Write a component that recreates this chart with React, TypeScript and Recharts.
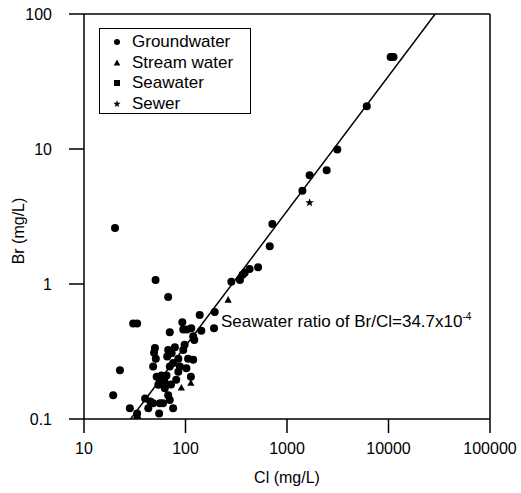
import { ReferenceLine, Scatter, ScatterChart, XAxis, YAxis } from "recharts";

const FONT = '"Liberation Sans", Arial, Helvetica, sans-serif';

// Cl (mg/L) and Br (mg/L)
const groundCl = [
  20.2, 50.7, 67.5, 30.5, 33.4, 22.6, 19.4, 28.3, 33.4, 33.4,
  138, 194, 191, 143, 93, 70, 95, 103, 114, 119, 122, 98, 95, 119,
  50, 49, 51, 48, 67.5, 66, 73, 78.6, 85, 70, 75.5, 65, 88, 85, 102, 106, 81, 113,
  52, 56, 54, 62.5, 67.5, 70, 40, 43, 48, 56, 60, 55, 75.5, 62, 45, 72, 58,
  283, 344, 365, 383, 428, 519, 676, 718, 1418, 1670, 2459, 3130, 6110, 10500, 11200,
];
const groundBr = [
  2.6, 1.07, 0.8, 0.51, 0.51, 0.23, 0.15, 0.12, 0.11, 0.1,
  0.59, 0.62, 0.47, 0.45, 0.52, 0.44, 0.46, 0.46, 0.47, 0.41, 0.385, 0.355, 0.325, 0.275,
  0.336, 0.31, 0.28, 0.245, 0.325, 0.29, 0.307, 0.34, 0.28, 0.245, 0.26, 0.21, 0.245, 0.224, 0.238, 0.28, 0.195, 0.206,
  0.206, 0.195, 0.179, 0.169, 0.15, 0.138, 0.142, 0.12, 0.131, 0.131, 0.131, 0.11, 0.12, 0.19, 0.135, 0.18, 0.21,
  1.04, 1.07, 1.17, 1.21, 1.29, 1.33, 1.9, 2.78, 4.9, 6.4, 6.95, 9.9, 20.7, 48, 48,
];
const streamCl = [263, 113, 91];
const streamBr = [0.76, 0.184, 0.17];
const sewerCl = [1670];
const sewerBr = [4.0];

// seawater ratio line Br/Cl = 34.7e-4, endpoints
const ratioCl = [28.8, 28818];
const ratioBr = [0.1, 100];

const xTicks = [10, 100, 1000, 10000, 100000];
const yTicks = [0.1, 1, 10, 100];

const zip = (xs: number[], ys: number[]) => xs.map((x, i) => ({ cl: x, br: ys[i] }));

const groundwater = zip(groundCl, groundBr);
const stream = zip(streamCl, streamBr);
const sewer = zip(sewerCl, sewerBr);
const ratioLine = zip(ratioCl, ratioBr);

const tickStyle = { fill: "#000", fontFamily: FONT, fontSize: 16 };

const Dot = (p: any) => <circle cx={p.cx} cy={p.cy} r={4} fill="#000" />;
const Tri = (p: any) => (
  <path d={`M${p.cx},${p.cy - 4} L${p.cx + 3.6},${p.cy + 2.6} L${p.cx - 3.6},${p.cy + 2.6} Z`} fill="#000" />
);
const starPath = (cx: number, cy: number, r: number) => {
  const pts: string[] = [];
  for (let i = 0; i < 10; i++) {
    const rr = i % 2 === 0 ? r : r * 0.42;
    const a = -Math.PI / 2 + (i * Math.PI) / 5;
    pts.push(`${cx + rr * Math.cos(a)},${cy + rr * Math.sin(a)}`);
  }
  return `M${pts.join("L")}Z`;
};
const Star = (p: any) => <path d={starPath(p.cx, p.cy, 4.5)} fill="#000" />;
const Nothing = () => <g />;

const legendRows = [
  { name: "Groundwater", sym: (x: number, y: number) => <circle cx={x} cy={y} r={3} fill="#000" /> },
  { name: "Stream water", sym: (x: number, y: number) => <path d={`M${x},${y - 3.5} L${x + 3.3},${y + 2.5} L${x - 3.3},${y + 2.5} Z`} fill="#000" /> },
  { name: "Seawater", sym: (x: number, y: number) => <rect x={x - 3} y={y - 3} width={6} height={6} fill="#000" /> },
  { name: "Sewer", sym: (x: number, y: number) => <path d={starPath(x, y, 3.8)} fill="#000" /> },
];

function LegendBox() {
  return (
    <div
      style={{
        position: "absolute",
        left: 99,
        top: 28,
        width: 152,
        height: 86,
        border: "1px solid #000",
        background: "#fff",
        fontFamily: FONT,
        fontSize: 17,
        paddingTop: 3,
        boxSizing: "border-box",
      }}
    >
      {legendRows.map((r) => (
        <div key={r.name} style={{ display: "flex", alignItems: "center", height: 20.5, lineHeight: "20.5px" }}>
          <svg width={32} height={20}>
            {r.sym(17, 10)}
          </svg>
          <span>{r.name}</span>
        </div>
      ))}
    </div>
  );
}

export default function App() {
  return (
    <div style={{ position: "absolute", left: 0, top: 0, width: 521, height: 493, background: "#fff" }}>
      <ScatterChart width={521} height={493} margin={{ top: 14, right: 31, bottom: 6, left: 24 }}>
        <XAxis
          type="number"
          dataKey="cl"
          scale="log"
          domain={[10, 100000]}
          ticks={xTicks}
          allowDataOverflow
          height={68}
          tick={tickStyle}
          tickSize={14}
          tickMargin={10}
          tickLine={{ stroke: "#000", strokeWidth: 1.5 }}
          axisLine={{ stroke: "#000", strokeWidth: 1.5 }}
          label={{ value: "Cl (mg/L)", position: "insideBottom", offset: 4, fill: "#000", fontFamily: FONT, fontSize: 16 }}
        />
        <YAxis
          type="number"
          dataKey="br"
          scale="log"
          domain={[0.1, 100]}
          ticks={yTicks}
          allowDataOverflow
          width={60}
          tick={tickStyle}
          tickSize={15}
          tickMargin={17}
          tickLine={{ stroke: "#000", strokeWidth: 1.5 }}
          axisLine={{ stroke: "#000", strokeWidth: 1.5 }}
        />
        <ReferenceLine y={100} stroke="#000" strokeWidth={1.5} />
        <ReferenceLine x={100000} stroke="#000" strokeWidth={1.5} />
        <Scatter data={ratioLine} line={{ stroke: "#000", strokeWidth: 1.5 }} shape={Nothing} isAnimationActive={false} legendType="none" />
        <Scatter name="Groundwater" data={groundwater} shape={Dot} isAnimationActive={false} />
        <Scatter name="Stream water" data={stream} shape={Tri} isAnimationActive={false} />
        <Scatter name="Sewer" data={sewer} shape={Star} isAnimationActive={false} />
      </ScatterChart>
      <LegendBox />
      <div
        style={{
          position: "absolute",
          left: 19,
          top: 231,
          transform: "translate(-50%, -50%) rotate(-90deg)",
          fontFamily: FONT,
          fontSize: 16,
          whiteSpace: "nowrap",
        }}
      >
        Br (mg/L)
      </div>
      <div
        style={{
          position: "absolute",
          left: 221,
          top: 311,
          fontFamily: FONT,
          fontSize: 17,
          whiteSpace: "nowrap",
        }}
      >
        Seawater ratio of Br/Cl=34.7x10<sup style={{ fontSize: 10 }}>-4</sup>
      </div>
    </div>
  );
}
